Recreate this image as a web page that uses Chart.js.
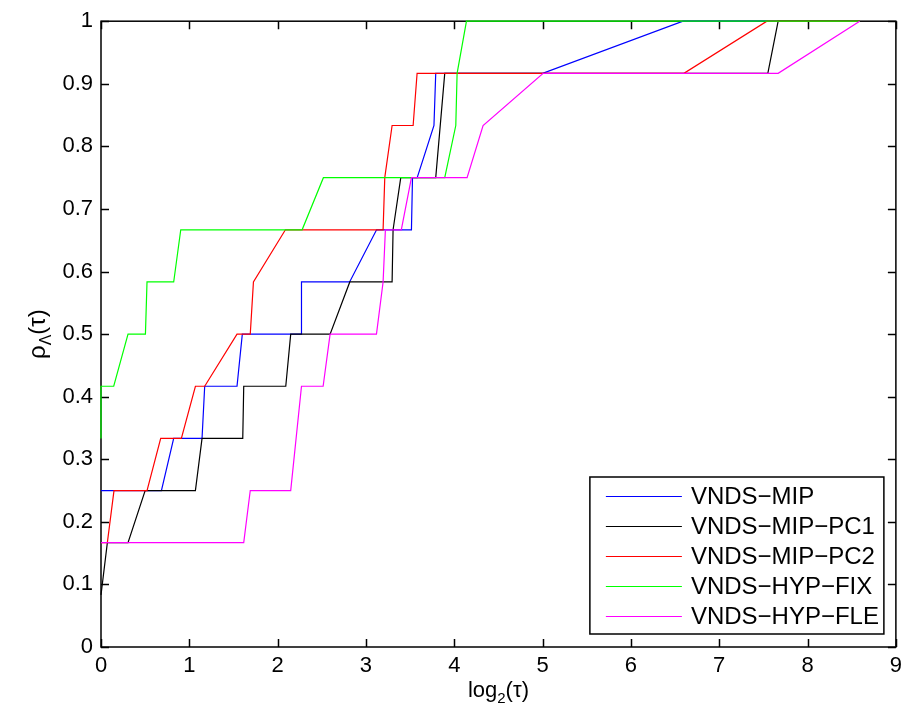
<!DOCTYPE html>
<html>
<head>
<meta charset="utf-8">
<script src="https://cdn.jsdelivr.net/npm/chart.js@4/dist/chart.umd.min.js"></script>
<style>
  html, body { margin: 0; padding: 0; background: #ffffff; }
  #wrap { width: 908px; height: 721px; position: relative; }
</style>
</head>
<body>
<div id="wrap"><canvas id="c" width="908" height="721"></canvas></div>
<script>
// ---- data ----
const seriesNames = ['VNDS\u2212MIP', 'VNDS\u2212MIP\u2212PC1', 'VNDS\u2212MIP\u2212PC2', 'VNDS\u2212HYP\u2212FIX', 'VNDS\u2212HYP\u2212FLE'];
const seriesColors = ['#0000ff', '#000000', '#ff0000', '#00ff00', '#ff00ff'];

const mipX = [0, 0.684, 0.823, 1.144, 1.174, 1.54, 1.60, 2.27, 2.27, 2.815, 3.12, 3.515, 3.527, 3.58, 3.77, 3.79, 5.0, 6.59, 8.59];
const mipY = [0.25, 0.25, 0.3333, 0.3333, 0.4167, 0.4167, 0.5, 0.5, 0.5833, 0.5833, 0.6667, 0.6667, 0.75, 0.75, 0.8333, 0.9167, 0.9167, 1, 1];

const pc1X = [0, 0.072, 0.306, 0.50, 1.069, 1.144, 1.605, 1.616, 2.092, 2.148, 2.594, 2.817, 3.296, 3.307, 3.394, 3.79, 3.892, 7.55, 7.667, 8.59];
const pc1Y = [0.0833, 0.1667, 0.1667, 0.25, 0.25, 0.3333, 0.3333, 0.4167, 0.4167, 0.5, 0.5, 0.5833, 0.5833, 0.6667, 0.75, 0.75, 0.9167, 0.9167, 1, 1];

const pc2X = [0, 0.072, 0.147, 0.521, 0.676, 0.910, 1.069, 1.174, 1.54, 1.69, 1.726, 2.088, 3.194, 3.213, 3.296, 3.534, 3.579, 6.60, 7.54, 8.59];
const pc2Y = [0.1667, 0.1667, 0.25, 0.25, 0.3333, 0.3333, 0.4167, 0.4167, 0.5, 0.5, 0.5833, 0.6667, 0.6667, 0.75, 0.8333, 0.8333, 0.9167, 0.9167, 1, 1];

const fixX = [0, 0, 0.144, 0.306, 0.503, 0.521, 0.823, 0.903, 2.277, 2.518, 3.892, 4.017, 4.032, 4.138, 8.59];
const fixY = [0.3333, 0.4167, 0.4167, 0.5, 0.5, 0.5833, 0.5833, 0.6667, 0.6667, 0.75, 0.75, 0.8333, 0.9167, 1, 1];

const fleX = [0, 1.616, 1.69, 2.148, 2.27, 2.515, 2.594, 3.119, 3.194, 3.22, 3.40, 3.515, 4.145, 4.326, 5.006, 7.667, 8.59];
const fleY = [0.1667, 0.1667, 0.25, 0.25, 0.4167, 0.4167, 0.5, 0.5, 0.5833, 0.6667, 0.6667, 0.75, 0.75, 0.8333, 0.9167, 0.9167, 1];

const xTickLabels = ['0', '1', '2', '3', '4', '5', '6', '7', '8', '9'];
const yTickLabels = ['0', '0.1', '0.2', '0.3', '0.4', '0.5', '0.6', '0.7', '0.8', '0.9', '1'];

// ---- build datasets ----
const allX = [mipX, pc1X, pc2X, fixX, fleX];
const allY = [mipY, pc1Y, pc2Y, fixY, fleY];
const datasets = seriesNames.map((name, i) => ({
  label: name,
  data: allX[i].map((x, k) => ({ x: x, y: allY[i][k] })),
  borderColor: seriesColors[i],
  backgroundColor: seriesColors[i],
  borderWidth: 1.2,
  pointRadius: 0,
  fill: false,
  tension: 0,
  clip: false,
  order: seriesNames.length - 1 - i
}));

const FONT = '"Liberation Sans", Arial, Helvetica, sans-serif';

const framePlugin = {
  id: 'frame',
  beforeDatasetsDraw(chart) {
    const { ctx, chartArea: { left, right, top, bottom }, scales: { x, y } } = chart;
    ctx.save();
    ctx.strokeStyle = '#000';
    ctx.lineWidth = 1.5;
    ctx.strokeRect(left, top, right - left, bottom - top);
    const tl = 8;
    ctx.beginPath();
    x.ticks.forEach(t => {
      const px = Math.round(x.getPixelForValue(t.value)) + 0.5;
      ctx.moveTo(px, bottom); ctx.lineTo(px, bottom - tl);
      ctx.moveTo(px, top); ctx.lineTo(px, top + tl);
    });
    y.ticks.forEach(t => {
      const py = Math.round(y.getPixelForValue(t.value)) + 0.5;
      ctx.moveTo(left, py); ctx.lineTo(left + tl, py);
      ctx.moveTo(right, py); ctx.lineTo(right - tl, py);
    });
    ctx.stroke();
    ctx.restore();
  },
  afterDraw(chart) {
    const { ctx, chartArea: { left, right, top, bottom } } = chart;
    ctx.save();
    // ---- legend ----
    const boxW = 294, boxH = 157;
    const bx = right - 12 - boxW, by = bottom - 13 - boxH;
    ctx.fillStyle = '#fff';
    ctx.fillRect(bx, by, boxW, boxH);
    ctx.strokeStyle = '#000';
    ctx.lineWidth = 1.5;
    ctx.strokeRect(bx, by, boxW, boxH);
    ctx.font = '24px ' + FONT;
    ctx.textBaseline = 'middle';
    ctx.textAlign = 'left';
    chart.data.datasets.forEach((ds, i) => {
      const cy = Math.round(by + 19 + 30 * i) + 0.5;
      ctx.strokeStyle = ds.borderColor;
      ctx.lineWidth = 1.2;
      ctx.beginPath();
      ctx.moveTo(bx + 16, cy); ctx.lineTo(bx + 92, cy);
      ctx.stroke();
      ctx.fillStyle = '#000';
      ctx.fillText(ds.label, bx + 101, cy + 1);
    });

    // ---- x axis title: log2(τ) ----
    const big = '22px ' + FONT, small = '15px ' + FONT;
    ctx.fillStyle = '#000';
    ctx.textBaseline = 'alphabetic';
    ctx.font = big; const w1 = ctx.measureText('log').width; const w3 = ctx.measureText('(\u03C4)').width;
    ctx.font = small; const w2 = ctx.measureText('2').width;
    const tw = w1 + w2 + w3;
    const cx = (left + right) / 2;
    let sx = cx - tw / 2;
    const base = 697;
    ctx.font = big; ctx.fillText('log', sx, base);
    ctx.font = small; ctx.fillText('2', sx + w1, base + 6);
    ctx.font = big; ctx.fillText('(\u03C4)', sx + w1 + w2, base);

    // ---- y axis title: ρΛ(τ) ----
    const bigY = '24px ' + FONT, smallY = '16px ' + FONT;
    ctx.translate(45, (top + bottom) / 2);
    ctx.rotate(-Math.PI / 2);
    ctx.font = bigY; const a1 = ctx.measureText('\u03C1').width; const a3 = ctx.measureText('(\u03C4)').width;
    ctx.font = smallY; const a2 = ctx.measureText('\u039B').width;
    const ta = a1 + a2 + a3;
    let ax = -ta / 2;
    ctx.font = bigY; ctx.fillText('\u03C1', ax, 0);
    ctx.font = smallY; ctx.fillText('\u039B', ax + a1, 6);
    ctx.font = bigY; ctx.fillText('(\u03C4)', ax + a1 + a2, 0);
    ctx.restore();
  }
};

new Chart(document.getElementById('c'), {
  type: 'line',
  data: { datasets: datasets },
  options: {
    responsive: false,
    animation: false,
    devicePixelRatio: 1,
    layout: { padding: { top: 18, right: 10, left: 0, bottom: 0 } },
    plugins: { legend: { display: false }, tooltip: { enabled: false }, title: { display: false } },
    scales: {
      x: {
        type: 'linear', min: 0, max: 9,
        grid: { display: false, drawTicks: false },
        border: { display: false },
        ticks: {
          stepSize: 1, padding: 6, color: '#000', maxRotation: 0,
          font: { family: FONT, size: 22 },
          callback: (v, i) => xTickLabels[i]
        },
        afterFit: s => { s.height = 74; }
      },
      y: {
        type: 'linear', min: 0, max: 1,
        grid: { display: false, drawTicks: false },
        border: { display: false },
        ticks: {
          stepSize: 0.1, padding: 8, color: '#000',
          font: { family: FONT, size: 22 },
          callback: (v, i) => yTickLabels[i]
        },
        afterFit: s => { s.width = 101; }
      }
    }
  },
  plugins: [framePlugin]
});
</script>
</body>
</html>
